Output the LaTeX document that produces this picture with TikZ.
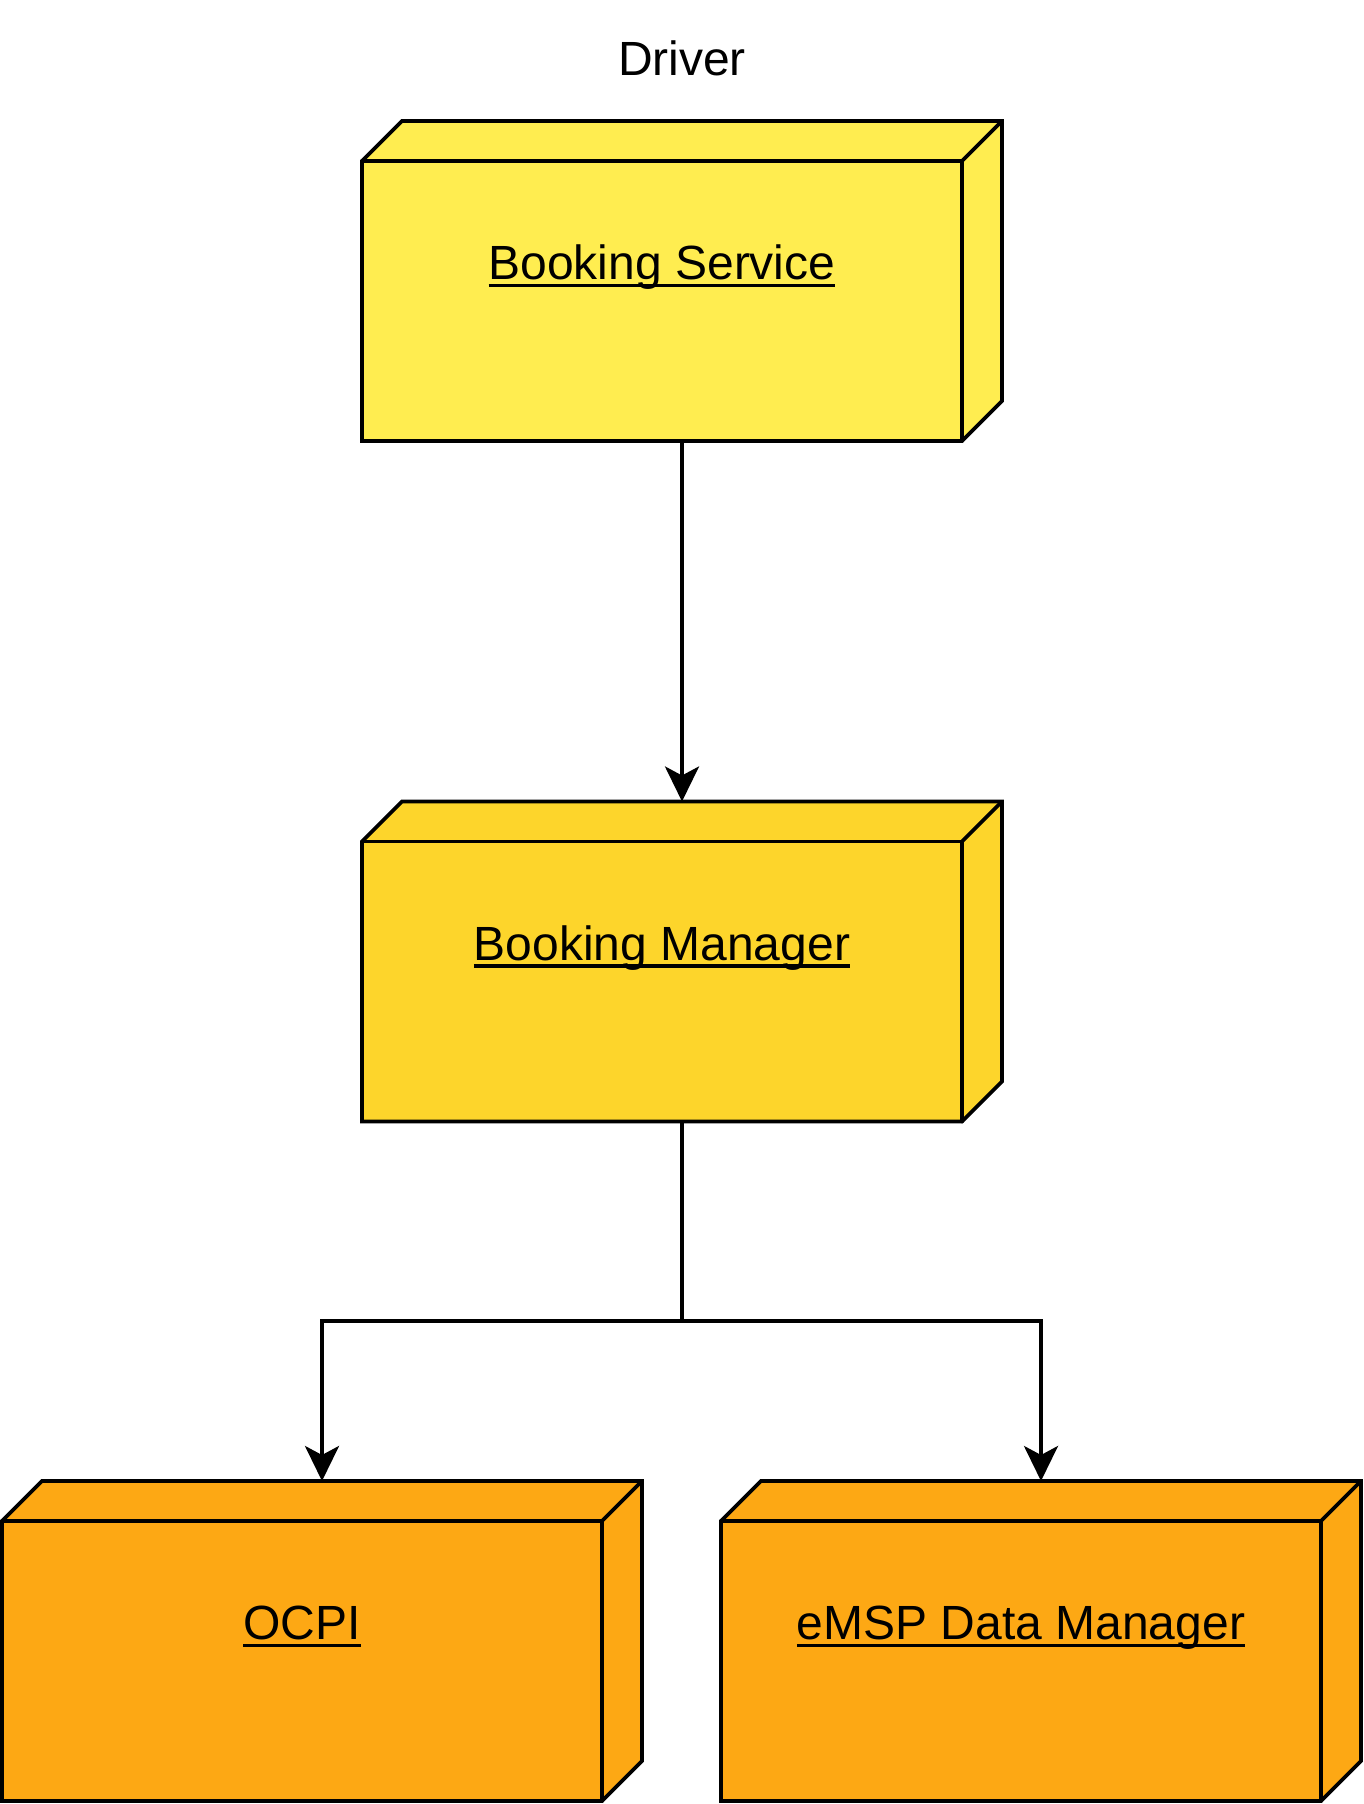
\documentclass[tikz,border=0pt]{standalone}
\usepackage{fontspec}
\setmainfont{Liberation Sans}
\usetikzlibrary{arrows.meta}
\definecolor{svcfill}{HTML}{FFED50}
\definecolor{mgrfill}{HTML}{FDD52B}
\definecolor{extfill}{HTML}{FDA814}
\newcommand\ulx[1]{\setbox0\hbox{#1}\rlap{\rule[-0.155em]{\wd0}{0.08em}}\box0}
\tikzset{
  cubebox/.style={minimum width=640pt, minimum height=320pt, inner sep=0pt, outer sep=0pt, draw=none},
  face/.style={draw=black, line width=3.6pt, line join=miter, line cap=round},
  lbl/.style={anchor=base, font=\fontsize{48}{58}\selectfont, inner sep=0pt},
  conn/.style={draw=black, line width=3.6pt, -{Stealth[length=35pt,width=34pt,inset=9pt]}},
}
\newcommand\cubenode[5]{%
  \node[cubebox] (#1) at (#2,#3) {};
  \path[face, fill=#4] (#1.south west) -- ([yshift=-40pt]#1.north west) -- ([xshift=40pt]#1.north west) -- (#1.north east) -- ([yshift=40pt]#1.south east) -- ([xshift=-40pt]#1.south east) -- cycle;
  \draw[face] ([yshift=-40pt]#1.north west) -- ([xshift=-40pt,yshift=-40pt]#1.north east) -- ([xshift=-40pt]#1.south east);
  \draw[face] ([xshift=-40pt,yshift=-40pt]#1.north east) -- (#1.north east);
  \node[lbl] (#1-label) at ([xshift=-20pt,yshift=-159pt]#1.north) {\ulx{#5}};
}
\begin{document}
\begin{tikzpicture}[x=1pt,y=1pt]
\useasboundingbox (0,0) rectangle (1364,1804);
\node[lbl] (driver) at (682,1728) {Driver};
\cubenode{bs}{682}{1523}{svcfill}{Booking Service}
\cubenode{bm}{682}{842.5}{mgrfill}{Booking Manager}
\cubenode{ocpi}{322}{163}{extfill}{OCPI}
\cubenode{emsp}{1041}{163}{extfill}{eMSP Data Manager}
\coordinate (split) at (682,483);
\draw[conn] (bs.south) -- (bm.north);
\draw[conn] (bm.south) -- (split) -| (ocpi.north);
\draw[conn] (split) -| (emsp.north);
\end{tikzpicture}
\end{document}
